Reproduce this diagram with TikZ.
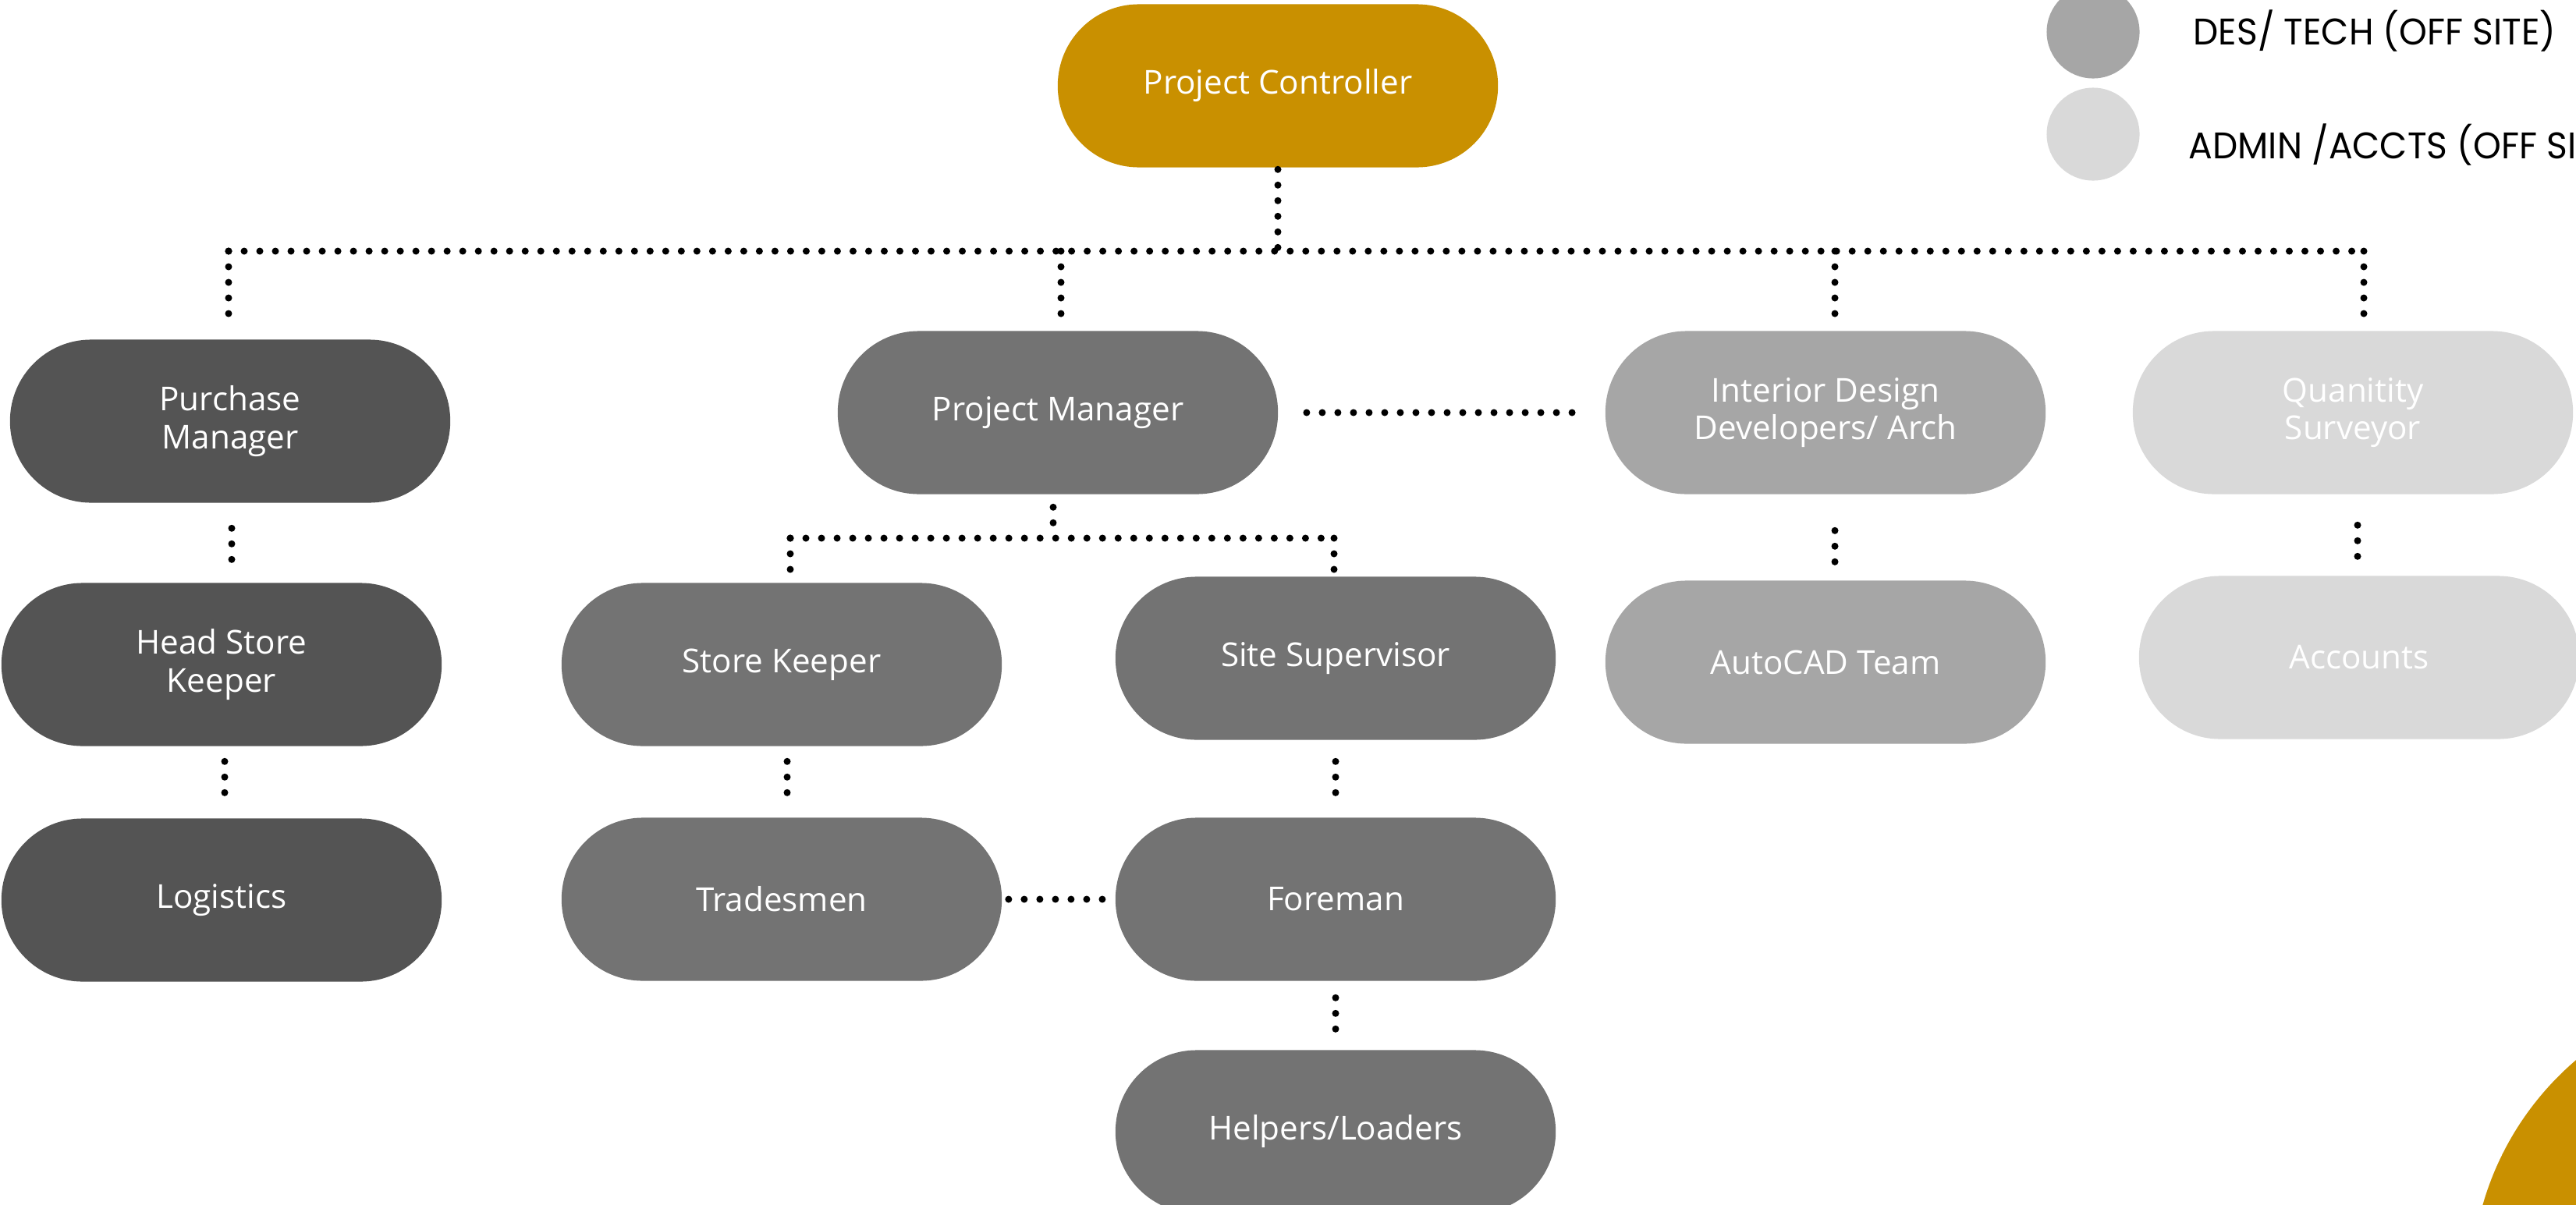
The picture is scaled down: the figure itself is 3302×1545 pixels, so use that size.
\documentclass[tikz,border=0pt]{standalone}
\usepackage{fontspec}
\setmainfont{Open Sans}
\newfontfamily\legendfont{Poppins}
\definecolor{gold}{RGB}{201,144,0}
\definecolor{cdark}{RGB}{84,84,84}
\definecolor{cmid}{RGB}{115,115,115}
\definecolor{clight}{RGB}{166,166,166}
\definecolor{cpale}{RGB}{217,217,217}
\tikzset{
  box/.style={rectangle, rounded corners=1.04cm, minimum width=5.64cm, minimum height=2.09cm,
    text=white, align=center, font=\fontsize{12}{13.7}\selectfont, inner sep=0pt},
  dotline/.style={line width=0.09cm, dash pattern=on 0pt off 0.2cm, line cap=round, black},
  legtext/.style={anchor=west, inner sep=0pt, font=\legendfont\fontsize{13.5}{15}\selectfont},
  legdot/.style={circle, minimum size=1.19cm, inner sep=0pt}
}
\begin{document}
\begin{tikzpicture}[x=0.01cm,y=-0.01cm]
\useasboundingbox (0,0) rectangle (3302,1545);
\clip (0,0) rectangle (3302,1545);
\fill[white] (0,0) rectangle (3302,1545);
% decorative circle
\fill[gold] (3550,1650) circle (3.82cm);
% legend
\node[legdot, fill=clight] (leg1) at (2683,41) {};
\node[legdot, fill=cpale] (leg2) at (2683,172) {};
\node[legtext] (legt1) at (2811,40) {\scalebox{0.96}[1]{DES/ TECH (OFF SITE)}};
\node[legtext] (legt2) at (2805,186) {\scalebox{0.96}[1]{ADMIN /ACCTS (OFF SITE)}};
% nodes
\node[box, fill=gold] (pc) at (1638,110) {Project Controller};
\node[box, fill=cdark] (pum) at (295,540) {Purchase\\Manager};
\node[box, fill=cmid] (pm) at (1356,529) {Project Manager};
\node[box, fill=clight] (id) at (2340,529) {Interior Design\\Developers/ Arch};
\node[box, fill=cpale] (qs) at (3016,529) {Quanitity\\Surveyor};
\node[box, fill=cdark] (hsk) at (284,852) {Head Store\\Keeper};
\node[box, fill=cmid] (sk) at (1002,852) {Store Keeper};
\node[box, fill=cmid] (ss) at (1712,844) {Site Supervisor};
\node[box, fill=clight] (cad) at (2340,849) {AutoCAD Team};
\node[box, fill=cpale] (acc) at (3024,843) {Accounts};
\node[box, fill=cdark] (log) at (284,1154) {Logistics};
\node[box, fill=cmid] (tm) at (1002,1153) {Tradesmen};
\node[box, fill=cmid] (fm) at (1712,1153) {Foreman};
\node[box, fill=cmid] (hl) at (1712,1451) {Helpers/Loaders};
% connector anchor points
\coordinate (bus) at (1634,322);
\coordinate (pmbus) at (1350,690);
\coordinate (dpum) at ([xshift=-0.02cm]pum.north);
\coordinate (dpm) at ([xshift=0.04cm]pm.north);
\coordinate (did) at ([xshift=0.12cm]id.north);
\coordinate (dqs) at ([xshift=0.14cm]qs.north);
\coordinate (dsk) at ([xshift=0.11cm]sk.north);
\coordinate (dss) at ([xshift=-0.02cm]ss.north);
% connectors
\draw[dotline, shorten <=0.02cm] (pc.south) -- (pc.south |- bus);
\draw[dotline] (dpum |- bus) -- (dqs |- bus);
\draw[dotline, shorten >=0.3cm] (dpum |- bus) -- (dpum);
\draw[dotline, shorten >=0.2cm] (dpm |- bus) -- (dpm);
\draw[dotline, shorten >=0.2cm] (did |- bus) -- (did);
\draw[dotline, shorten >=0.2cm] (dqs |- bus) -- (dqs);
\draw[dotline, shorten <=0.36cm, shorten >=0.4cm] (pm.east) -- (id.west);
\draw[dotline, shorten <=0.16cm] (pm.south -| pmbus) -- (pmbus);
\draw[dotline] (dsk |- pmbus) -- (dss |- pmbus);
\draw[dotline, shorten >=0.08cm] (dsk |- pmbus) -- (dsk);
\draw[dotline, shorten >=0.02cm] (dss |- pmbus) -- (dss);
\draw[dotline, shorten <=0.32cm, shorten >=0.28cm] ([xshift=0.02cm]pum.south) -- ([xshift=0.02cm]pum.south |- hsk.north);
\draw[dotline, shorten <=0.19cm, shorten >=0.28cm] ([xshift=0.04cm]hsk.south) -- ([xshift=0.04cm]hsk.south |- log.north);
\draw[dotline, shorten <=0.19cm, shorten >=0.28cm] ([xshift=0.07cm]sk.south) -- ([xshift=0.07cm]sk.south |- tm.north);
\draw[dotline, shorten <=0.27cm, shorten >=0.28cm] (ss.south) -- (ss.south |- fm.north);
\draw[dotline, shorten <=0.21cm, shorten >=0.19cm] (fm.south) -- (fm.south |- hl.north);
\draw[dotline, shorten <=0.46cm, shorten >=0.22cm] ([xshift=0.12cm]id.south) -- ([xshift=0.12cm]id.south |- cad.north);
\draw[dotline, shorten <=0.39cm, shorten >=0.2cm] ([xshift=0.06cm]qs.south) -- ([xshift=0.06cm]qs.south |- acc.north);
\draw[dotline, shorten <=0.08cm, shorten >=0.09cm] (tm.east) -- (fm.west);
\end{tikzpicture}
\end{document}
